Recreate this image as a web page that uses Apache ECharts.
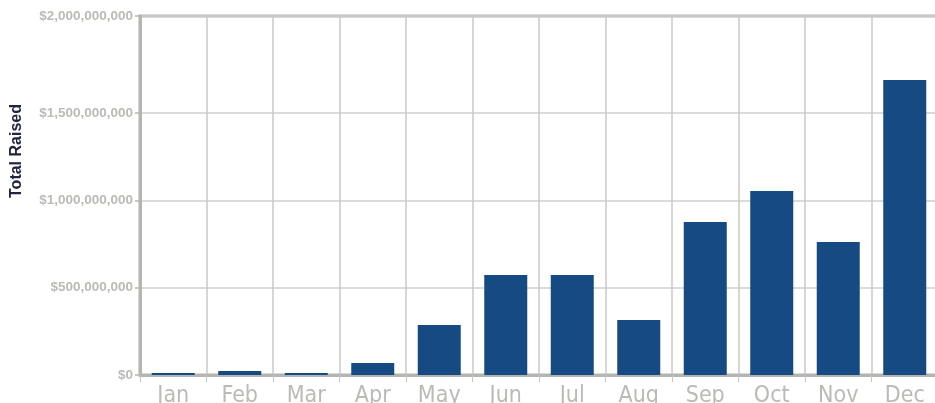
<!DOCTYPE html>
<html>
<head>
<meta charset="utf-8">
<script src="https://cdn.jsdelivr.net/npm/echarts@6/dist/echarts.min.js"></script>
<style>
html,body{margin:0;padding:0;background:#fff;}
#chart{width:935px;height:403px;}
</style>
</head>
<body>
<div id="chart"></div>
<script>
const months = ['Jan','Feb','Mar','Apr','May','Jun','Jul','Aug','Sep','Oct','Nov','Dec'];
const totalRaised = [11500000, 23000000, 11500000, 69000000, 287000000, 573000000, 573000000, 315000000, 877000000, 1054000000, 762000000, 1691000000];
const yMax = 2057000000;
const yTicks = [0, 500000000, 1000000000, 1500000000, 2057000000];
const yTickText = ['$0', '$500,000,000', '$1,000,000,000', '$1,500,000,000', '$2,000,000,000'];
const yAxisTitle = 'Total Raised';

const chart = echarts.init(document.getElementById('chart'), null, {renderer:'canvas'});
chart.setOption({
  animation:false,
  backgroundColor:'#ffffff',
  grid:{left:140, top:16, right:-3, bottom:28, outerBoundsMode:'none', containLabel:false, show:true, borderColor:'#b3b6b0', borderWidth:3, backgroundColor:'transparent'},
  graphic:[{
    type:'text',
    x:17, y:151,
    rotation:Math.PI/2,
    style:{text:yAxisTitle, fill:'#23253f', font:'bold 16px "Liberation Sans", Arial, sans-serif', align:'center', verticalAlign:'middle'}
  }],
  xAxis:{
    type:'category',
    data:months,
    boundaryGap:true,
    axisLine:{show:true, lineStyle:{color:'#b3b6b0', width:3}},
    axisTick:{show:true, length:7, lineStyle:{color:'#c4c4c4', width:1}},
    axisLabel:{color:'#b9bbb6', fontSize:23, fontFamily:'"Liberation Sans Narrow", "DejaVu Sans Condensed", sans-serif', margin:10},
    splitLine:{show:true, lineStyle:{color:'#c8c8c8', width:1.5}}
  },
  yAxis:{
    type:'value',
    min:0, max:yMax,
    axisLine:{show:true, lineStyle:{color:'#b3b6b0', width:3}},
    axisTick:{show:true, length:5, customValues:yTicks, lineStyle:{color:'#b3b6b0', width:1.5}},
    axisLabel:{
      color:'#b9bbb6', fontSize:13.5, fontWeight:'bold', fontFamily:'"Liberation Sans", Arial, sans-serif', margin:7,
      customValues:yTicks,
      formatter:function(v){
        const i = yTicks.indexOf(v);
        return i >= 0 ? yTickText[i] : '';
      }
    },
    splitLine:{show:true, lineStyle:{color:'#cfcfcf', width:1.5}}
  },
  series:[{
    type:'bar',
    data:totalRaised,
    barWidth:43,
    itemStyle:{color:'#164a82'}
  }]
});
</script>
</body>
</html>
